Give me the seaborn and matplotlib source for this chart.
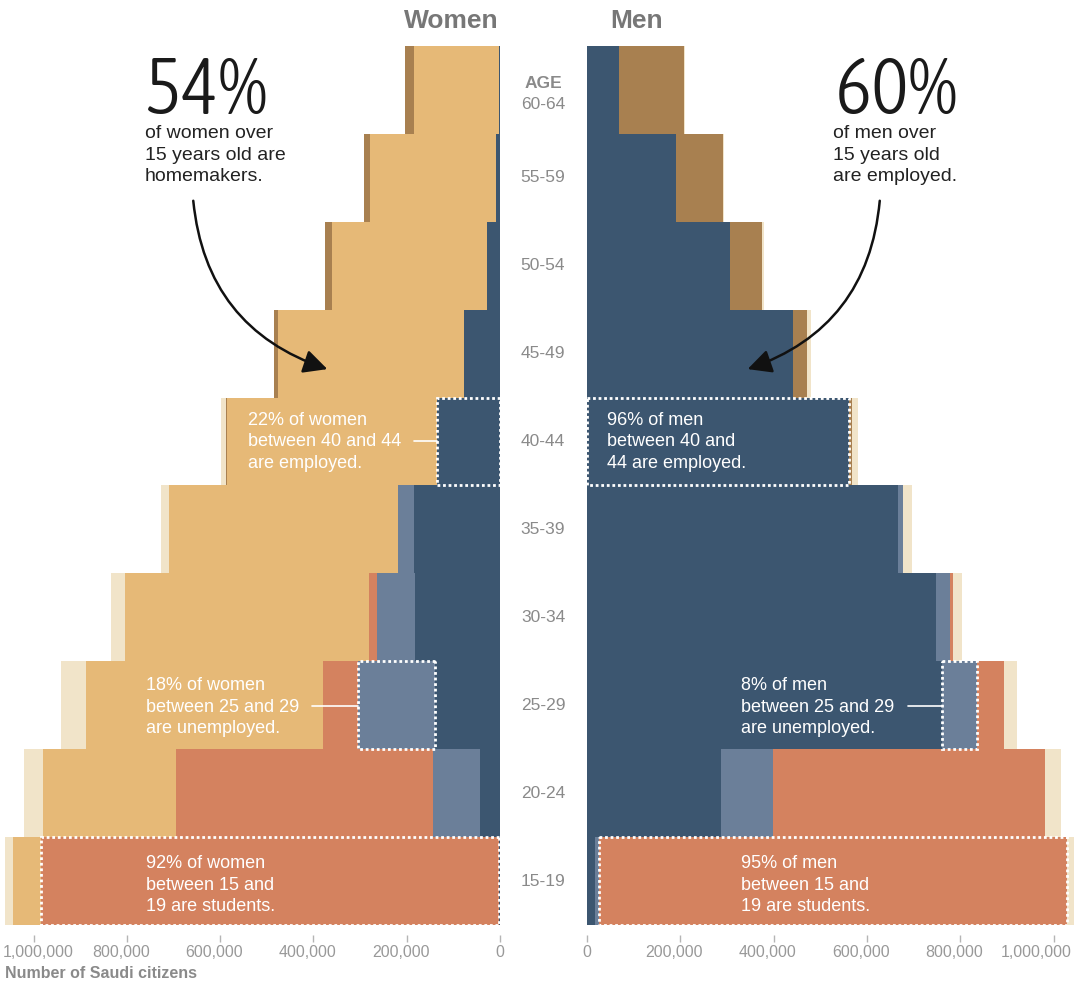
import numpy as np
import pandas as pd
import matplotlib
matplotlib.use("Agg")
import matplotlib.pyplot as plt
import seaborn as sns
from matplotlib import transforms, font_manager
from matplotlib.font_manager import FontProperties
from matplotlib.patches import FancyArrowPatch

# ---------------- data (thousands of people) ----------------
ages = ["60-64", "55-59", "50-54", "45-49", "40-44",
        "35-39", "30-34", "25-29", "20-24", "15-19"]

women_employed   = [2, 9, 28, 77, 135, 184, 182, 139, 43, 3]
women_unemployed = [0, 0, 0, 0, 0, 34, 81, 165, 101, 0]
women_students   = [0, 0, 0, 0, 0, 0, 17, 75, 551, 982]
women_homemakers = [182, 270, 332, 399, 450, 491, 523, 508, 285, 60]
women_retired    = [19, 13, 15, 9, 2, 0, 0, 0, 0, 0]
women_other      = [0, 0, 0, 0, 11, 17, 32, 54, 41, 17]

men_employed   = [69, 191, 307, 442, 562, 667, 748, 761, 287, 17]
men_unemployed = [0, 0, 0, 0, 0, 11, 30, 75, 111, 8]
men_students   = [0, 0, 0, 0, 0, 0, 6, 58, 583, 1003]
men_homemakers = [0, 0, 0, 0, 0, 0, 0, 0, 0, 0]
men_retired    = [139, 101, 69, 30, 6, 0, 0, 0, 0, 0]
men_other      = [2, 2, 4, 9, 13, 19, 19, 28, 36, 15]

tick_values = [0, 200000, 400000, 600000, 800000, 1000000]
tick_labels = ["0", "200,000", "400,000", "600,000", "800,000", "1,000,000"]

# ---------------- style ----------------
sns.set_style("white")
plt.rcParams["font.family"] = ["Liberation Sans", "DejaVu Sans"]


def _weight(w):
    if isinstance(w, (int, float)):
        return int(w)
    table = {"thin": 100, "extralight": 200, "ultralight": 200, "light": 300,
             "normal": 400, "regular": 400, "book": 400, "medium": 500,
             "semibold": 600, "demibold": 600, "bold": 700, "extrabold": 800,
             "heavy": 800, "black": 900}
    return table.get(str(w).lower().replace(" ", "").replace("-", ""), 400)


def condensed_font():
    cands = []
    for f in font_manager.fontManager.ttflist:
        nm = (f.name + " " + f.fname).lower()
        st = str(f.stretch).lower()
        if f.style != "normal":
            continue
        if ("condensed" in nm or "narrow" in nm or
                st in ("condensed", "semi-condensed", "extra-condensed",
                       "ultra-condensed")):
            cands.append(f)
    if cands:
        cands.sort(key=lambda f: abs(_weight(f.weight) - 300))
        return FontProperties(fname=cands[0].fname), True
    names = {f.name for f in font_manager.fontManager.ttflist}
    if "Roboto" in names:
        return FontProperties(family="Roboto", weight="light"), False
    return FontProperties(family="DejaVu Sans"), False


big_fp, big_is_condensed = condensed_font()

colors = ["#3c5670",  # employed
          "#6b7f99",  # unemployed
          "#d4825f",  # students
          "#e6b977",  # homemakers
          "#a88050",  # retired
          "#f1e4c9"]  # other

W, H = 1082, 984
fig = plt.figure(figsize=(W / 100, H / 100), dpi=100)


def fx(x):
    return x / W


def fy(y):
    return 1 - y / H


ax_w = fig.add_axes([0, fy(935), 500 / W, 889 / H])
ax_m = fig.add_axes([587 / W, fy(935), 495 / W, 889 / H])


def draw_side(ax, parts, highlights):
    arr = np.array(parts, dtype=float) * 1000
    cum = np.cumsum(arr, axis=0)
    for k in range(len(parts) - 1, -1, -1):
        df = pd.DataFrame({"age": ages, "value": cum[k]})
        sns.barplot(data=df, x="value", y="age", order=ages, color=colors[k],
                    saturation=1, width=1.0, linewidth=0, errorbar=None,
                    orient="h", ax=ax, antialiased=False)
    for idx, cat in highlights:
        left = cum[cat - 1][idx] if cat > 0 else 0
        ax.barh(y=idx, width=arr[cat][idx], left=left, height=1.0, fill=False,
                edgecolor="white", linewidth=2, linestyle=(0, (1, 1)),
                zorder=5, clip_on=False)
    ax.set_ylim(9.614, -0.5)
    ax.set_yticks([])
    ax.set_ylabel("")
    ax.set_xlabel("")
    ax.set_xticks(tick_values)
    ax.set_xticklabels(tick_labels)
    ax.tick_params(axis="x", length=5, width=1, color="#b5b5b5",
                   labelcolor="#999999", labelsize=11.5, pad=2, direction="out",
                   bottom=True)
    for s in ax.spines.values():
        s.set_visible(False)
    ax.set_facecolor("none")


draw_side(ax_w, [women_employed, women_unemployed, women_students,
                 women_homemakers, women_retired, women_other],
          [(4, 0), (7, 1), (9, 2)])
draw_side(ax_m, [men_employed, men_unemployed, men_students,
                 men_homemakers, men_retired, men_other],
          [(4, 0), (7, 1), (9, 2)])
ax_w.set_xlim(1072000, 0)
ax_m.set_xlim(0, 1061000)

# nudge tick labels like the reference (labels sit a little left of ticks)
def nudge(ax, shifts):
    for lab, dx in zip(ax.get_xticklabels(), shifts):
        lab.set_transform(lab.get_transform() +
                          transforms.ScaledTranslation(dx / 100, 0, fig.dpi_scale_trans))


nudge(ax_w, [0, -6, -6, -6, -6, 5])
nudge(ax_m, [0, -6, -6, -6, -6, -17])

# ---------------- headings ----------------
fig.text(fx(451), fy(21), "Women", ha="center", va="center", fontsize=19,
         fontweight="bold", color="#777777")
fig.text(fx(637), fy(21), "Men", ha="center", va="center", fontsize=19,
         fontweight="bold", color="#777777")

# age labels in the middle column
trans = transforms.blended_transform_factory(fig.transFigure, ax_w.transData)
for i, a in enumerate(ages):
    yy = i + 0.16 if i == 0 else i
    fig.text(fx(543), yy, a, transform=trans, ha="center", va="center",
             fontsize=12.5, color="#8a8a8a")
fig.text(fx(543), -0.07, "AGE", transform=trans, ha="center", va="center",
         fontsize=12.5, fontweight="bold", color="#8a8a8a")

fig.text(fx(5), fy(973), "Number of Saudi citizens", ha="left", va="center",
         fontsize=11.5, fontweight="bold", color="#8a8a8a")

# ---------------- big callouts ----------------
big_size = 57 if big_is_condensed else 50
big_fp.set_size(big_size)
fig.text(fx(145), fy(114), "54%", ha="left", va="baseline",
         fontproperties=big_fp, color="#1a1a1a")
fig.text(fx(835), fy(114), "60%", ha="left", va="baseline",
         fontproperties=big_fp, color="#1a1a1a")
fig.text(fx(145), fy(155), "of women over\n15 years old are\nhomemakers.",
         ha="left", va="center", fontsize=14, color="#222222", linespacing=1.35)
fig.text(fx(833), fy(155), "of men over\n15 years old\nare employed.",
         ha="left", va="center", fontsize=14, color="#222222", linespacing=1.35)

for (x0, y0, x1, y1, rad) in [(193, 198, 330, 370, 0.33), (880, 198, 745, 370, -0.33)]:
    arr = FancyArrowPatch((fx(x0), fy(y0)), (fx(x1), fy(y1)),
                          transform=fig.transFigure,
                          connectionstyle=f"arc3,rad={rad}",
                          arrowstyle="-|>,head_length=0.9,head_width=0.45",
                          mutation_scale=16, lw=1.8, color="#111111")
    fig.patches.append(arr)

# ---------------- in-bar labels ----------------
labels = [
    (248, 442, "22% of women\nbetween 40 and 44\nare employed.", (414, 437)),
    (607, 442, "96% of men\nbetween 40 and\n44 are employed.", None),
    (146, 707, "18% of women\nbetween 25 and 29\nare unemployed.", (312, 358)),
    (741, 707, "8% of men\nbetween 25 and 29\nare unemployed.", (908, 942)),
    (146, 885, "92% of women\nbetween 15 and\n19 are students.", None),
    (741, 885, "95% of men\nbetween 15 and\n19 are students.", None),
]
for x, y, t, ln in labels:
    fig.text(fx(x), fy(y), t, ha="left", va="center", fontsize=13,
             color="white", linespacing=1.35, zorder=10)
    if ln is not None:
        fig.add_artist(plt.Line2D([fx(ln[0]), fx(ln[1])], [fy(y - 1), fy(y - 1)],
                                  color="white", lw=1.2, zorder=10))

fig.savefig("out.png", dpi=100)
